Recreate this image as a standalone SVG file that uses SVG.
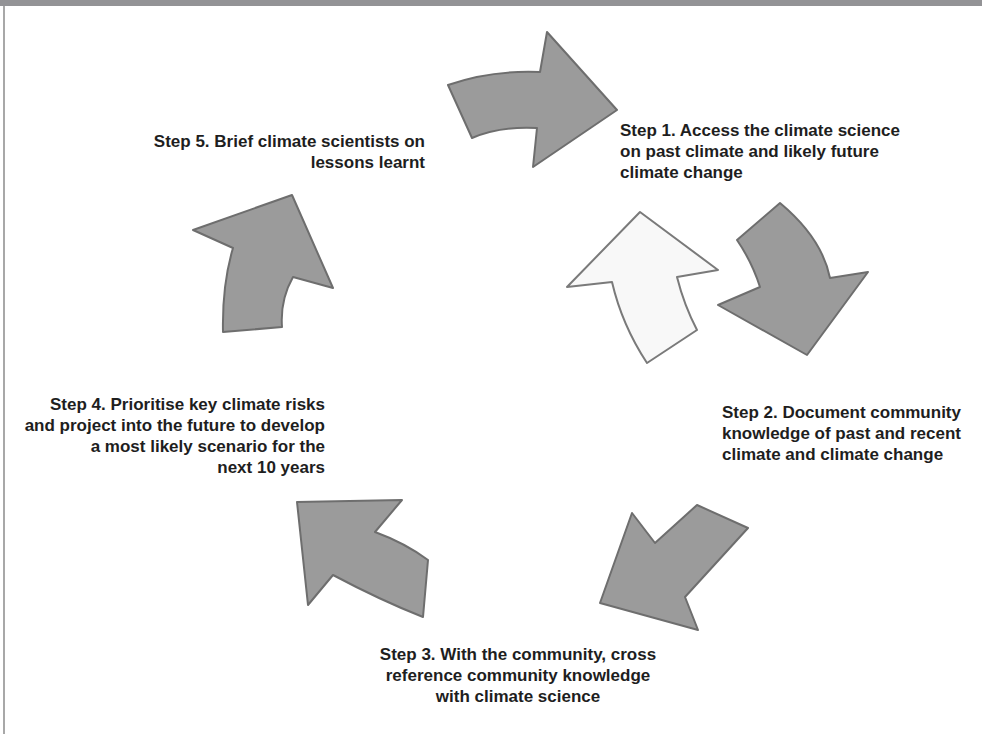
<svg xmlns="http://www.w3.org/2000/svg" width="982" height="734" viewBox="0 0 982 734">
<style>
.bg{fill:#ffffff}
.arrow{fill:#9b9b9b;stroke:#6e6e6e;stroke-width:2;stroke-linejoin:round}
.arrow-light{fill:#f8f8f8;stroke:#7a7a7a;stroke-width:2;stroke-linejoin:round}
.lbl{font-family:"Liberation Sans",Arial,sans-serif;font-weight:bold;font-size:17px;fill:#1e1e1e}
</style>
<rect class="bg" x="0" y="0" width="982" height="734"/>
<rect x="0" y="0" width="982" height="6" fill="#939396"/>
<rect x="3" y="6" width="2" height="728" fill="#a8a8a8"/>

<g id="connectors">
  <path id="arrow-5-1" class="arrow" d="M448,85 Q490,70 540,72 L547,32 L617,110 L533,167 L537,128 Q500,126 472,138 Z"/>
  <path id="arrow-1-2" class="arrow" d="M737,240 L780,203 Q822,238 830,278 L868,272 L807,355 L718,305 L760,287 Q752,262 737,240 Z"/>
  <path id="arrow-2-3" class="arrow" d="M600,603 L632,513 L655,543 L697,505 L748,528 L685,597 L698,630 Z"/>
  <path id="arrow-3-4" class="arrow" d="M297,502 L402,500 L375,532 Q405,543 428,560 L423,617 Q380,600 333,575 L308,605 Z"/>
  <path id="arrow-4-5" class="arrow" d="M292,195 L333,288 L293,277 Q280,300 282,327 L223,332 Q222,285 233,248 L193,230 Z"/>
  <path id="arrow-center" class="arrow-light" d="M640,212 L718,270 L677,277 Q684,305 697,330 L647,363 Q622,325 612,282 L567,287 Z"/>
</g>

<g id="step1">
  <text class="lbl" x="620" y="136">Step 1. Access the climate science</text>
  <text class="lbl" x="620" y="157">on past climate and likely future</text>
  <text class="lbl" x="620" y="178">climate change</text>
</g>
<g id="step2">
  <text class="lbl" x="722" y="418">Step 2. Document community</text>
  <text class="lbl" x="722" y="439">knowledge of past and recent</text>
  <text class="lbl" x="722" y="460">climate and climate change</text>
</g>
<g id="step3">
  <text class="lbl" x="518" y="660" text-anchor="middle">Step 3. With the community, cross</text>
  <text class="lbl" x="518" y="681" text-anchor="middle">reference community knowledge</text>
  <text class="lbl" x="518" y="702" text-anchor="middle">with climate science</text>
</g>
<g id="step4">
  <text class="lbl" x="325" y="410" text-anchor="end">Step 4. Prioritise key climate risks</text>
  <text class="lbl" x="325" y="431" text-anchor="end">and project into the future to develop</text>
  <text class="lbl" x="325" y="452" text-anchor="end">a most likely scenario for the</text>
  <text class="lbl" x="325" y="473" text-anchor="end">next 10 years</text>
</g>
<g id="step5">
  <text class="lbl" x="425" y="147" text-anchor="end">Step 5. Brief climate scientists on</text>
  <text class="lbl" x="425" y="168" text-anchor="end">lessons learnt</text>
</g>
</svg>
